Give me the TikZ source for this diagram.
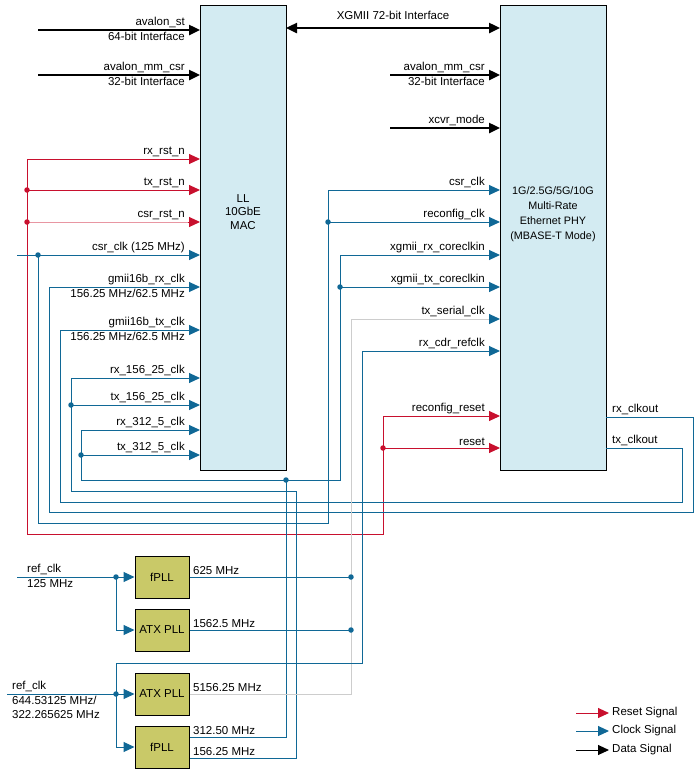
\documentclass[tikz,border=0pt]{standalone}
\usepackage{fontspec}
\setmainfont{Liberation Sans}
\usetikzlibrary{arrows.meta}
\definecolor{rstc}{RGB}{200,16,46}
\definecolor{rstl}{RGB}{232,150,162}
\definecolor{clkc}{RGB}{16,104,150}
\definecolor{grayc}{RGB}{205,205,205}
\definecolor{macf}{RGB}{211,235,242}
\definecolor{pllf}{RGB}{201,201,104}
\begin{document}
\begin{tikzpicture}[x=1pt,y=-1pt,
  font=\fontsize{11.5}{13.5}\selectfont,
  tip/.style={-{Triangle[length=11pt,width=10pt]}},
  rst/.style={draw=rstc,line width=1pt},
  clk/.style={draw=clkc,line width=1pt},
  dat/.style={draw=black,line width=2.4pt},
  dot/.style={circle,fill=#1,inner sep=0pt,minimum size=5.5pt},
  box/.style={draw=black,line width=1pt,fill=macf},
  pll/.style={draw=black,line width=1pt,fill=pllf,minimum width=54pt,minimum height=42pt,inner sep=0pt},
  lab/.style={inner sep=1pt},
  ll/.style={lab,anchor=south east},
  lb/.style={lab,anchor=north east}]
\useasboundingbox (0,0) rectangle (698,780);
% boxes
\node[box,minimum width=86pt,minimum height=465pt,anchor=north west,inner sep=0pt] (mac) at (200,5) {};
\node[box,minimum width=106pt,minimum height=465pt,anchor=north west,inner sep=0pt] (phy) at (500,5) {};
\node[align=center] (mact) at (243,212) {LL\\10GbE\\MAC};
\node[align=center,font=\fontsize{10.8}{15}\selectfont] (phyt) at (553,214) {1G/2.5G/5G/10G\\Multi-Rate\\Ethernet PHY\\(MBASE-T Mode)};
\node[pll] (p1) at (162,577) {fPLL};
\node[pll] (p2) at (162,630) {ATX PLL};
\node[pll] (p3) at (162,694) {ATX PLL};
\node[pll] (p4) at (162,747) {fPLL};
% data
\draw[dat,tip] (38,30) -- (200,30);
\node[ll] at (186,29) {avalon\_st}; \node[lb] at (186,31) {64-bit Interface};
\draw[dat,tip] (38,75) -- (200,75);
\node[ll] at (186,74) {avalon\_mm\_csr}; \node[lb] at (186,76) {32-bit Interface};
\draw[dat,{Triangle[length=11pt,width=10pt]}-{Triangle[length=11pt,width=10pt]}] (286,28) -- (500,28);
\node[lab] at (393,15) {XGMII 72-bit Interface};
\draw[dat,tip] (390,75) -- (500,75);
\node[ll] at (486,74) {avalon\_mm\_csr}; \node[lb] at (486,76) {32-bit Interface};
\draw[dat,tip] (390,128) -- (500,128);
\node[ll] at (486,127) {xcvr\_mode};
% resets
\draw[rst,tip] (27,159) -- (200,159);
\draw[rst,tip] (27,190) -- (200,190);
\draw[draw=rstl,line width=1pt] (27,222) -- (190,222);
\draw[rst,tip] (188,222) -- (200,222);
\draw[rst] (27,159) -- (27,534) -- (383,534) -- (383,416);
\draw[rst,tip] (383,416) -- (500,416);
\draw[rst,tip] (383,448) -- (500,448);
\node[dot=rstc] at (27,190) {}; \node[dot=rstc] at (27,222) {}; \node[dot=rstc] at (383,448) {};
\node[ll] at (186,158) {rx\_rst\_n};
\node[ll] at (186,189) {tx\_rst\_n};
\node[ll] at (186,221) {csr\_rst\_n};
\node[ll] at (486,415) {reconfig\_reset};
\node[ll] at (486,447) {reset};
% csr clk
\draw[clk,tip] (17,255) -- (200,255);
\draw[clk] (38,255) -- (38,523) -- (328,523) -- (328,190);
\draw[clk,tip] (328,190) -- (500,190);
\draw[clk,tip] (328,222) -- (500,222);
\node[dot=clkc] at (38,255) {}; \node[dot=clkc] at (328,222) {};
\node[ll] at (186,254) {csr\_clk (125 MHz)};
\node[ll] at (486,189) {csr\_clk};
\node[ll] at (486,221) {reconfig\_clk};
% gmii
\draw[clk,tip] (49,287) -- (200,287);
\draw[clk] (49,287) -- (49,512) -- (693,512) -- (693,417) -- (606,417);
\draw[clk,tip] (60,330) -- (200,330);
\draw[clk] (60,330) -- (60,502) -- (682,502) -- (682,448) -- (606,448);
\node[ll] at (186,286) {gmii16b\_rx\_clk}; \node[lb] at (186,288) {156.25 MHz/62.5 MHz};
\node[ll] at (186,329) {gmii16b\_tx\_clk}; \node[lb] at (186,331) {156.25 MHz/62.5 MHz};
\node[lab,anchor=south west] at (611,416) {rx\_clkout};
\node[lab,anchor=south west] at (611,447) {tx\_clkout};
% 156.25
\draw[clk,tip] (71,378) -- (200,378);
\draw[clk,tip] (71,405) -- (200,405);
\draw[clk] (71,378) -- (71,491) -- (296,491) -- (296,758) -- (p4.east |- 0,758);
\node[dot=clkc] at (71,405) {};
\node[ll] at (186,377) {rx\_156\_25\_clk};
\node[ll] at (186,404) {tx\_156\_25\_clk};
% 312.5
\draw[clk,tip] (81,430) -- (200,430);
\draw[clk,tip] (81,455) -- (200,455);
\draw[clk] (81,430) -- (81,480) -- (340,480) -- (340,255);
\draw[clk,tip] (340,255) -- (500,255);
\draw[clk,tip] (340,287) -- (500,287);
\draw[clk] (286,480) -- (286,737) -- (p4.east |- 0,737);
\node[dot=clkc] at (81,455) {}; \node[dot=clkc] at (340,287) {}; \node[dot=clkc] at (286,480) {};
\node[ll] at (186,429) {rx\_312\_5\_clk};
\node[ll] at (186,454) {tx\_312\_5\_clk};
\node[ll] at (486,254) {xgmii\_rx\_coreclkin};
\node[ll] at (486,286) {xgmii\_tx\_coreclkin};
% tx serial
\draw[draw=grayc,line width=1pt] (p3.east) -- (351,694) -- (351,319) -- (492,319);
\draw[clk,tip] (489,319) -- (500,319);
\draw[clk] (p1.east) -- (351,577);
\draw[clk] (p2.east) -- (351,630);
\node[dot=clkc] at (351,577) {}; \node[dot=clkc] at (351,630) {};
\node[ll] at (486,318) {tx\_serial\_clk};
% rx cdr
\draw[clk,tip] (362,351) -- (500,351);
\draw[clk] (362,351) -- (362,663) -- (116,663) -- (116,747);
\draw[clk,tip] (116,747) -- (p4.west);
\node[ll] at (486,350) {rx\_cdr\_refclk};
% ref clks
\draw[clk,tip] (17,577) -- (p1.west);
\draw[clk] (116,577) -- (116,630);
\draw[clk,tip] (116,630) -- (p2.west);
\node[dot=clkc] at (116,577) {};
\draw[clk,tip] (7,694) -- (p3.west);
\node[dot=clkc] at (116,694) {};
\node[lab,anchor=south west] at (26,576) {ref\_clk};
\node[lab,anchor=north west] at (26,578) {125 MHz};
\node[lab,anchor=south west] at (11,693) {ref\_clk};
\node[lab,anchor=north west,align=left] at (11,695) {644.53125 MHz/\\322.265625 MHz};
\node[lab,anchor=south west] at (192,576) {625 MHz};
\node[lab,anchor=south west] at (192,629) {1562.5 MHz};
\node[lab,anchor=south west] at (192,693) {5156.25 MHz};
\node[lab,anchor=south west] at (192,736) {312.50 MHz};
\node[lab,anchor=south west] at (192,757) {156.25 MHz};
% legend
\draw[rst,tip] (576,713) -- (609,713);
\draw[clk,tip] (576,731) -- (609,731);
\draw[draw=black,line width=1pt,tip] (576,750) -- (609,750);
\node[lab,anchor=west] at (611,713) {Reset Signal};
\node[lab,anchor=west] at (611,731) {Clock Signal};
\node[lab,anchor=west] at (611,750) {Data Signal};
\end{tikzpicture}
\end{document}
